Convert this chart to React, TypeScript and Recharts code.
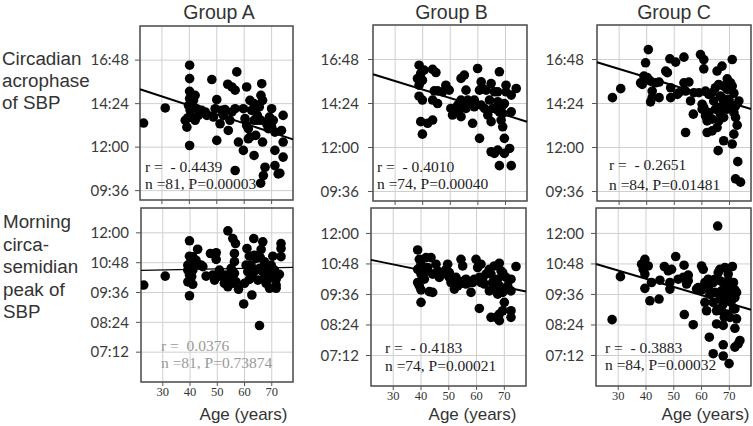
import React from 'react';
import { ScatterChart, Scatter, XAxis, YAxis, CartesianGrid, ReferenceLine, ReferenceArea } from 'recharts';

const groups = ['Group A', 'Group B', 'Group C'];
const ageTicks = [30, 40, 50, 60, 70];
const ageDomain = [22, 77.8];
const acrophaseTicks = [9.6, 12, 14.4, 16.8];
const acrophaseDomain = [9.083, 18.683];
const morningTicks = [7.2, 8.4, 9.6, 10.8, 12];
const morningDomain = [6, 13];

// [age, clock hour]
const aAcrophase = [
  [23.3, 13.33], [31.2, 14.16], [40.1, 16.52], [40.1, 15.78], [40.1, 15.08], [40.1, 14.68], [39.7, 14.3], [40.3, 14.03],
  [39.1, 13.1], [40.1, 12.09], [42.1, 14.86], [41.5, 14.22], [42.7, 14.12], [40.9, 13.66], [43.3, 13.75], [45.8, 13.94],
  [46.4, 13.75], [48.2, 15.73], [50, 14.62], [49.4, 14.12], [48.8, 13.66], [51.2, 13.29], [50, 12.37], [52.4, 13.75],
  [54, 15.47], [55.5, 15.32], [56.7, 15.14], [57.3, 16.15], [56.7, 14.12], [54.8, 13.48], [54.2, 12.92], [57.9, 12.28],
  [56.7, 10.71], [60.9, 15.32], [59.7, 14.12], [60.3, 13.57], [60.9, 13.2], [62.1, 14.58], [62.7, 14.03], [62.1, 12.55],
  [59.7, 11.82], [63.6, 11.54], [66.4, 15.5], [66.1, 14.86], [66.7, 14.58], [65.5, 14.22], [64.8, 13.75], [66.1, 13.48],
  [64.2, 12.65], [66.7, 12.28], [67.6, 10.89], [67, 10.43], [66, 10.01], [70, 14.12], [70.6, 13.48], [70, 13.11],
  [68.8, 13.02], [71.2, 12.83], [71.2, 11.82], [71.2, 10.98], [72.4, 10.52], [74.2, 13.75], [73.6, 12.92], [74.2, 12.28],
  [74.2, 11.45], [73, 10.56], [69.2, 13.66], [68.2, 13.29], [63.6, 13.48], [51.8, 14.03], [53, 14.07], [44.5, 14.03],
  [41.5, 14.58], [42.1, 13.48], [39.5, 13.62], [61.5, 13.02], [64.8, 13.48], [63.6, 14.4], [55.5, 13.94], [61.5, 12.46],
  [38.5, 13.48],
];
const aMorning = [
  [23, 9.9], [30.9, 10.26], [39.8, 11.68], [39.8, 11.06], [39.2, 10.7], [40.4, 10.84], [41.6, 10.7], [41, 10.5],
  [39.8, 10.3], [39.2, 10.03], [41, 9.93], [39.8, 9.47], [42.8, 11.34], [42.2, 10.9], [44.7, 10.64], [45.9, 10.26],
  [47.5, 11.17], [49.6, 11.2], [49.6, 10.93], [49, 10.1], [50.8, 10.26], [52, 10.26], [53.2, 10.3], [53.9, 12.08],
  [55.7, 11.77], [56.7, 11.57], [56.3, 10.84], [55.1, 10.57], [53.9, 9.83], [55.7, 9.97], [56.9, 10.03], [57.8, 9.73],
  [59.7, 9.14], [60.9, 11.37], [60.6, 10.7], [61.2, 10.44], [61.8, 10.13], [61.8, 11.06], [63.4, 11.77], [63.6, 11.1],
  [64.3, 10.5], [62.7, 9.5], [64.9, 10.1], [66.7, 11.64], [66.1, 11.33], [65.8, 11], [65.5, 10.57], [66.7, 10.44],
  [67.3, 10.17], [65.5, 8.27], [68.5, 10.57], [69.8, 10.7], [70.4, 11.06], [69.8, 10.3], [69.2, 9.77], [71.6, 9.9],
  [71.6, 9.77], [71, 10.5], [72.8, 10.33], [73.4, 11.57], [73.4, 11.37], [73.4, 11.04], [62.4, 10.7], [63, 10.37],
  [56.3, 10.37], [52.6, 9.97], [48.3, 10.3], [39.2, 10.5], [40.6, 10.24], [67.9, 9.97], [64.3, 10.97], [60, 9.97],
  [54.5, 10.1], [44.1, 10.7], [41, 11.04], [67.3, 10.84], [69.2, 10.17], [61.8, 10.64], [71.6, 10.13], [56.3, 11.17],
  [50.8, 10.5],
];
const bAcrophase = [
  [38.7, 16.49], [39.3, 16.04], [39.9, 15.67], [38.7, 15.4], [40.5, 16.22], [43.6, 16.26], [44.8, 16.09], [38.7, 14.8],
  [39.9, 14.59], [44.2, 15.09], [45.4, 15.09], [43.6, 14.59], [45.4, 14.4], [39.3, 13.41], [41.8, 13.32], [43.6, 13.5],
  [39.9, 12.73], [48.4, 15.4], [49.6, 15.13], [50.2, 14.13], [50.8, 13.77], [53.9, 15.77], [55.1, 15.95], [55.7, 15.13],
  [53.9, 14.59], [52.7, 14.31], [53.9, 13.68], [55.7, 14.13], [56.3, 14.59], [58.1, 13.32], [59.9, 16.31], [61.2, 15.58],
  [61.8, 15.22], [60.6, 15.13], [58.7, 14.59], [61.2, 14.31], [62.4, 14.13], [60.6, 12.5], [64.8, 15.49], [66, 15.04],
  [64.2, 14.59], [65.4, 14.13], [64.8, 13.41], [64.8, 11.77], [67.8, 16.13], [67.2, 15.04], [67.2, 14.5], [67.8, 13.95],
  [68.4, 13.5], [69, 13.13], [67.2, 11.86], [67.8, 11.01], [69.6, 14.4], [70.2, 15.04], [69.6, 12.5], [71.5, 11.95],
  [72.1, 11.01], [70.2, 15.4], [72.1, 14.86], [73.9, 15.22], [72.1, 13.95], [69, 13.86], [69.6, 11.68], [63.6, 13.77],
  [57, 14.49], [55.7, 14.4], [47.2, 15.04], [38.1, 15.76], [63, 15.13], [69, 14.31], [58.7, 14.22], [53.3, 14.04],
  [67.2, 14.04], [66, 11.68],
];
const bMorning = [
  [38.8, 11.35], [39.4, 10.98], [40, 10.79], [38.8, 10.59], [40, 10.4], [38.8, 10.07], [40, 9.78], [40, 9.29],
  [41.8, 11.05], [43.6, 11.05], [42.4, 10.66], [44.2, 10.4], [43, 9.71], [44.2, 9.68], [41.2, 10.2], [45.4, 10.79],
  [46, 10.53], [46.6, 10.27], [49.6, 10.79], [49, 10.59], [50.2, 10.27], [50.8, 10.07], [52.6, 10.27], [54.4, 10.98],
  [55, 10.72], [53.8, 10.01], [55.6, 10.14], [56.2, 10.01], [58, 9.68], [57.4, 10.07], [59.8, 10.98], [60.4, 10.66],
  [59.2, 10.2], [61.6, 10.79], [61, 10.27], [62.2, 10.14], [62.8, 10.01], [61, 9.05], [64.6, 10.59], [65.2, 10.4],
  [65.8, 10.07], [64.6, 9.74], [65.2, 8.7], [68.2, 10.83], [68.8, 10.53], [67.6, 10.2], [68.2, 9.94], [67.6, 9.61],
  [69.4, 9.68], [70, 9.29], [68.2, 8.83], [68.2, 8.57], [69.4, 8.96], [72.4, 8.96], [72.4, 8.7], [70.6, 10.27],
  [72.4, 10.2], [72.4, 9.74], [74.2, 10.7], [71.2, 9.94], [69.4, 10.46], [63.4, 10.4], [58.6, 10.07], [53.2, 9.94],
  [47.8, 10.4], [41.2, 10.46], [39.4, 9.94], [67, 9.81], [66.4, 10.72], [52, 9.81], [56.2, 10.2], [50.2, 10.46],
  [61.6, 10.07], [67, 8.7],
];
const cAcrophase = [
  [27.6, 14.72], [30.6, 15.21], [40.6, 17.34], [39.6, 16.62], [39, 15.9], [38.4, 15.44], [40.2, 15.81], [41.4, 15.62],
  [42, 15.08], [41.4, 14.49], [44.5, 15.57], [44.5, 14.72], [46.9, 16.17], [47.5, 16.08], [48.4, 16.84], [50.5, 16.66],
  [48.7, 15.26], [48.7, 14.72], [51.7, 14.99], [53.5, 16.93], [53.5, 15.53], [55.3, 15.57], [54.1, 15.08], [57.1, 14.99],
  [56.9, 13.82], [54.1, 12.82], [59.5, 17.07], [60.7, 16.8], [60.7, 16.29], [58.9, 14.99], [61.3, 15.08], [60.1, 14.36],
  [60.1, 14.09], [61.3, 13.73], [61.9, 13.45], [61.9, 12.82], [63.7, 12.91], [64.3, 14.54], [64.9, 15.26], [66.1, 15.44],
  [65.5, 16.17], [67.3, 16.44], [64.9, 14.09], [63.7, 13.55], [66.1, 14.18], [66.7, 14.81], [67.9, 15.35], [69.2, 15.75],
  [69.2, 15.17], [69.8, 14.63], [67.3, 14.09], [67.9, 13.64], [66.1, 13.45], [67.9, 12.37], [65.9, 11.83], [71, 16.8],
  [71, 15.35], [71.6, 14.96], [72.2, 14.27], [73.4, 14.54], [72.2, 13.64], [72.8, 13.22], [71.6, 12.73], [71, 12.19],
  [73, 11.23], [72.2, 10.29], [74, 10.11], [55.9, 14.54], [62.5, 13.91], [51.1, 14.9], [37.8, 15.53], [69.2, 14.09],
  [70.4, 15.53], [68.6, 14.63], [63.7, 14.99], [66.7, 13.82], [70.4, 14.36], [71.6, 13.91], [62.5, 14.9], [42, 14.72],
  [43.2, 15.53], [60.7, 14.18], [65.5, 13.09], [67.9, 14.54],
];
const cMorning = [
  [27.8, 8.61], [30.8, 10.3], [39.6, 10.98], [40.8, 10.72], [39, 10.59], [39.6, 10.4], [42, 10.07], [39.6, 9.84],
  [41.4, 9.35], [44.7, 9.42], [45, 10.16], [46.6, 10.7], [48, 10.53], [48.6, 10.07], [48.6, 9.81], [50.7, 11.09],
  [51.6, 10.2], [53.4, 10.27], [53.7, 10.75], [55.2, 10.36], [54.6, 10.01], [53.8, 8.81], [57, 8.41], [60, 10.72],
  [60.6, 10.59], [58.2, 9.81], [60, 9.78], [61.8, 9.87], [62.4, 10.2], [61.2, 9.29], [61.8, 8.96], [62.8, 7.92],
  [64.2, 10.07], [64.8, 9.68], [64.2, 9.29], [65.4, 8.96], [65.8, 12.29], [65.4, 8.44], [64.2, 7.27], [66.6, 10.59],
  [66.6, 10.14], [67.2, 9.74], [66.6, 9.42], [67.8, 9.22], [68.2, 8.7], [67.8, 8.38], [67.8, 7.62], [67.8, 7.18],
  [68.4, 10.66], [69.6, 10.4], [69, 10.01], [70.2, 9.68], [69.6, 9.42], [69, 8.83], [70.2, 8.7], [69.9, 6.88],
  [71.1, 10.7], [71.5, 10.07], [72, 9.78], [72, 9.48], [72, 9.03], [72.6, 8.64], [72, 8.27], [72, 7.53],
  [73.8, 7.79], [73.2, 7.66], [69.6, 10.14], [66, 10.46], [68.4, 9.55], [63, 9.61], [70.6, 9.29], [67.8, 10.07],
  [61.2, 10.07], [55.2, 10.14], [38.4, 10.79], [69.6, 9.84], [64.8, 10.2], [66, 9.03], [71.5, 9.03], [49.2, 10.59],
  [58.8, 9.87], [67.2, 8.96], [72.6, 9.68], [62.4, 9.87],
];

// regression line values at the two ends of the age axis
const aAcrophaseFit = [15.19, 12.43];
const aMorningFit = [10.49, 10.61];
const bAcrophaseFit = [16.0, 13.41];
const bMorningFit = [10.96, 9.72];
const cAcrophaseFit = [16.65, 14.1];
const cMorningFit = [10.8, 9.0];

const stats = [
  ['r =  - 0.4439', 'n =81, P=0.00003'],
  ['r =  0.0376', 'n =81, P=0.73874'],
  ['r =  - 0.4010', 'n =74, P=0.00040'],
  ['r =  - 0.4183', 'n =74, P=0.00021'],
  ['r =  - 0.2651', 'n =84, P=0.01481'],
  ['r =  - 0.3883', 'n =84, P=0.00032'],
];

const fmtClock = (v: number) => {
  const m = Math.round(v * 60);
  const hh = Math.floor(m / 60);
  const mm = m % 60;
  return `${String(hh).padStart(2, '0')}:${String(mm).padStart(2, '0')}`;
};

const Dot = (p: any) => <circle cx={p.cx} cy={p.cy} r={4.8} fill="#000" />;

type PanelProps = {
  left: number; top: number; w: number; h: number;
  points: number[][]; fit: number[]; domain: number[]; ticks: number[];
  showX: boolean; yGap: number; lineW: number;
};

function Panel({ left, top, w, h, points, fit, domain, ticks, showX, yGap, lineW }: PanelProps) {
  const YW = 60, TP = 6, RP = 6, XH = 24;
  const data = points.map(([x, y]) => ({ x, y }));
  return (
    <div style={{ position: 'absolute', left: left - YW, top: top - TP }}>
      <ScatterChart width={YW + w + RP} height={TP + h + XH} margin={{ top: TP, right: RP, bottom: 0, left: 0 }}>
        <CartesianGrid stroke="#cfcfcf" strokeWidth={1} />
        <XAxis
          type="number" dataKey="x" domain={ageDomain} ticks={ageTicks} height={XH}
          allowDataOverflow axisLine={false} tickSize={4} tickMargin={1}
          tickLine={{ stroke: '#555' }}
          tickFormatter={showX ? (v: number) => String(v) : () => ''}
          tick={{ fontFamily: 'Liberation Serif', fontSize: 12.5, fill: '#333' }}
        />
        <YAxis
          type="number" dataKey="y" domain={domain} ticks={ticks} width={YW}
          allowDataOverflow axisLine={false} tickSize={5} tickMargin={yGap}
          tickLine={{ stroke: '#555' }}
          tickFormatter={fmtClock}
          tick={{ fontFamily: 'Lato', fontSize: 15, fill: '#3a3a3a' }}
        />
        <ReferenceArea x1={ageDomain[0]} x2={ageDomain[1]} y1={domain[0]} y2={domain[1]}
          fill="none" stroke="#505050" strokeWidth={1.5} ifOverflow="visible" />
        <Scatter data={data} fill="#000" shape={Dot} isAnimationActive={false} />
        <ReferenceLine segment={[{ x: ageDomain[0], y: fit[0] }, { x: ageDomain[1], y: fit[1] }]}
          stroke="#000" strokeWidth={lineW} ifOverflow="visible" />
      </ScatterChart>
    </div>
  );
}

const sans = 'Liberation Sans';
const serif = 'Liberation Serif';

export default function App() {
  const rowLabel = { fontFamily: sans, fontSize: 18.8, fill: '#333' } as const;
  const statStyle = { fontFamily: serif, fontSize: 15.5, whiteSpace: 'pre' } as any;
  const statPos = [
    [145, 172, 188.5, '#222'],
    [161, 351, 368, '#999'],
    [377, 172, 188.5, '#222'],
    [385, 353, 370.5, '#222'],
    [609, 170, 190, '#222'],
    [605, 352.5, 370, '#222'],
  ] as any[];
  return (
    <div style={{ position: 'absolute', left: 0, top: 0, width: 753, height: 426, background: '#fff', overflow: 'hidden' }}>
      <Panel left={140} top={26} w={153} h={174} points={aAcrophase} fit={aAcrophaseFit} domain={acrophaseDomain} ticks={acrophaseTicks} showX={false} yGap={6} lineW={2} />
      <Panel left={141} top={208} w={152} h={174} points={aMorning} fit={aMorningFit} domain={morningDomain} ticks={morningTicks} showX={true} yGap={7} lineW={1.4} />
      <Panel left={373} top={25} w={154} h={176} points={bAcrophase} fit={bAcrophaseFit} domain={acrophaseDomain} ticks={acrophaseTicks} showX={false} yGap={9} lineW={2} />
      <Panel left={371} top={208} w={155} h={178} points={bMorning} fit={bMorningFit} domain={morningDomain} ticks={morningTicks} showX={true} yGap={7} lineW={2} />
      <Panel left={597} top={25} w={154} h={176} points={cAcrophase} fit={cAcrophaseFit} domain={acrophaseDomain} ticks={acrophaseTicks} showX={false} yGap={8} lineW={2} />
      <Panel left={596} top={208} w={155} h={178} points={cMorning} fit={cMorningFit} domain={morningDomain} ticks={morningTicks} showX={true} yGap={7} lineW={2} />
      <svg width={753} height={426} style={{ position: 'absolute', left: 0, top: 0, pointerEvents: 'none' }}>
        <text x={219} y={18.5} textAnchor="middle" fontFamily={sans} fontSize={19.5} fill="#333">{groups[0]}</text>
        <text x={451.5} y={18.5} textAnchor="middle" fontFamily={sans} fontSize={19.5} fill="#333">{groups[1]}</text>
        <text x={674} y={18.5} textAnchor="middle" fontFamily={sans} fontSize={19.5} fill="#333">{groups[2]}</text>
        <text x={2} y={65} {...rowLabel}>Circadian</text>
        <text x={2} y={87.3} {...rowLabel}>acrophase</text>
        <text x={2} y={109.3} {...rowLabel}>of SBP</text>
        <text x={3} y={228.3} {...rowLabel}>Morning</text>
        <text x={3} y={250.7} {...rowLabel}>circa-</text>
        <text x={3} y={273.3} {...rowLabel}>semidian</text>
        <text x={3} y={296} {...rowLabel}>peak of</text>
        <text x={3} y={318.3} {...rowLabel}>SBP</text>
        <text x={243.5} y={420} textAnchor="middle" fontFamily={sans} fontSize={17} fill="#333">Age (years)</text>
        <text x={472.5} y={420} textAnchor="middle" fontFamily={sans} fontSize={17} fill="#333">Age (years)</text>
        <text x={705.5} y={420} textAnchor="middle" fontFamily={sans} fontSize={17} fill="#333">Age (years)</text>
        {statPos.map((p, i) => (
          <g key={i}>
            <text x={p[0]} y={p[1]} fill={p[3]} style={statStyle}>{stats[i][0]}</text>
            <text x={p[0]} y={p[2]} fill={p[3]} style={statStyle}>{stats[i][1]}</text>
          </g>
        ))}
      </svg>
    </div>
  );
}
